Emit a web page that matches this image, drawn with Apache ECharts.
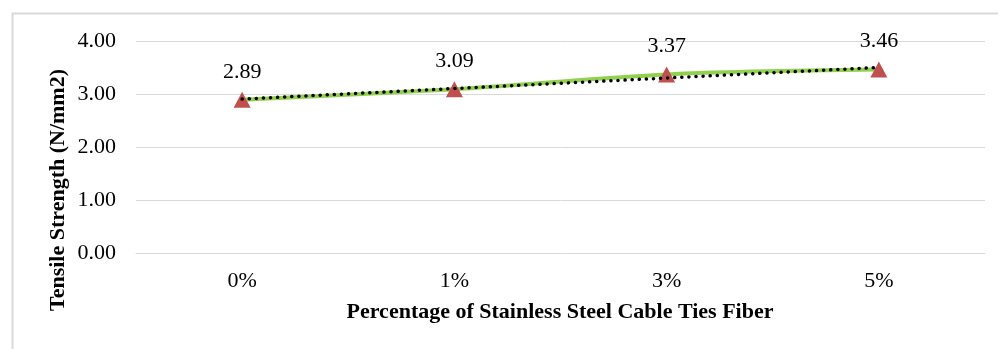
<!DOCTYPE html>
<html>
<head>
<meta charset="utf-8">
<script src="https://cdn.jsdelivr.net/npm/echarts@6/dist/echarts.min.js"></script>
<style>
  html, body { margin: 0; padding: 0; background: #fff; }
  #chart { width: 998px; height: 349px; }
</style>
</head>
<body>
<div id="chart"></div>
<script>
// Fiber content and measured tensile strength
const categories = ['0%', '1%', '3%', '5%'];
const strength = [2.89, 3.09, 3.37, 3.46];
const yTicks = [0, 1, 2, 3, 4];

// Linear trend over category index (1..n)
function linearTrend(values) {
  const n = values.length;
  const xs = values.map((_, i) => i + 1);
  const mx = xs.reduce((a, b) => a + b, 0) / n;
  const my = values.reduce((a, b) => a + b, 0) / n;
  let sxy = 0, sxx = 0;
  for (let i = 0; i < n; i++) {
    sxy += (xs[i] - mx) * (values[i] - my);
    sxx += (xs[i] - mx) * (xs[i] - mx);
  }
  const slope = sxy / sxx;
  const intercept = my - slope * mx;
  return xs.map(x => +(intercept + slope * x).toFixed(4));
}
const trend = linearTrend(strength);

const FONT = "'Liberation Serif', 'Times New Roman', serif";
const chart = echarts.init(document.getElementById('chart'), null, { renderer: 'canvas' });

chart.setOption({
  animation: false,
  backgroundColor: '#fff',
  grid: { left: 136, right: 13, top: 41, bottom: 96, containLabel: false },
  graphic: [
    {
      type: 'rect',
      shape: { x: 12.5, y: 13.5, width: 1000, height: 400 },
      style: { fill: 'none', stroke: '#d9d9d9', lineWidth: 2 },
      z: -1
    },
    {
      type: 'text',
      x: 58, y: 190,
      rotation: Math.PI / 2,
      style: {
        text: 'Tensile Strength (N/mm2)',
        font: 'bold 22px ' + FONT,
        fill: '#000',
        align: 'center',
        verticalAlign: 'middle'
      }
    },
    {
      type: 'text',
      x: 560, y: 312,
      style: {
        text: 'Percentage of Stainless Steel Cable Ties Fiber',
        font: 'bold 22px ' + FONT,
        fill: '#000',
        align: 'center',
        verticalAlign: 'middle'
      }
    }
  ],
  xAxis: {
    type: 'category',
    data: categories,
    boundaryGap: true,
    axisLine: { show: true, lineStyle: { color: '#d9d9d9', width: 1 } },
    axisTick: { show: false },
    axisLabel: { color: '#000', fontFamily: FONT, fontSize: 22, margin: 17 },
    splitLine: { show: false }
  },
  yAxis: {
    type: 'value',
    min: yTicks[0],
    max: yTicks[yTicks.length - 1],
    interval: 1,
    axisLine: { show: false },
    axisTick: { show: false },
    axisLabel: {
      color: '#000', fontFamily: FONT, fontSize: 22, margin: 20,
      formatter: v => v.toFixed(2)
    },
    splitLine: { lineStyle: { color: '#d9d9d9', width: 1 } }
  },
  series: [
    {
      name: 'Tensile Strength',
      type: 'line',
      data: strength,
      smooth: 0.3,
      lineStyle: { color: '#92D050', width: 4 },
      symbol: 'triangle',
      symbolSize: [17, 16],
      itemStyle: { color: '#C0504D' },
      label: {
        show: true,
        position: 'top',
        distance: 9,
        color: '#000',
        fontFamily: FONT,
        fontSize: 22,
        formatter: p => p.value.toFixed(2)
      },
      z: 2
    },
    {
      name: 'Linear trend',
      type: 'line',
      data: trend,
      symbol: 'none',
      silent: true,
      lineStyle: { color: '#000', width: 3.5, type: [0.1, 7], cap: 'round' },
      z: 3
    }
  ]
});
</script>
</body>
</html>
